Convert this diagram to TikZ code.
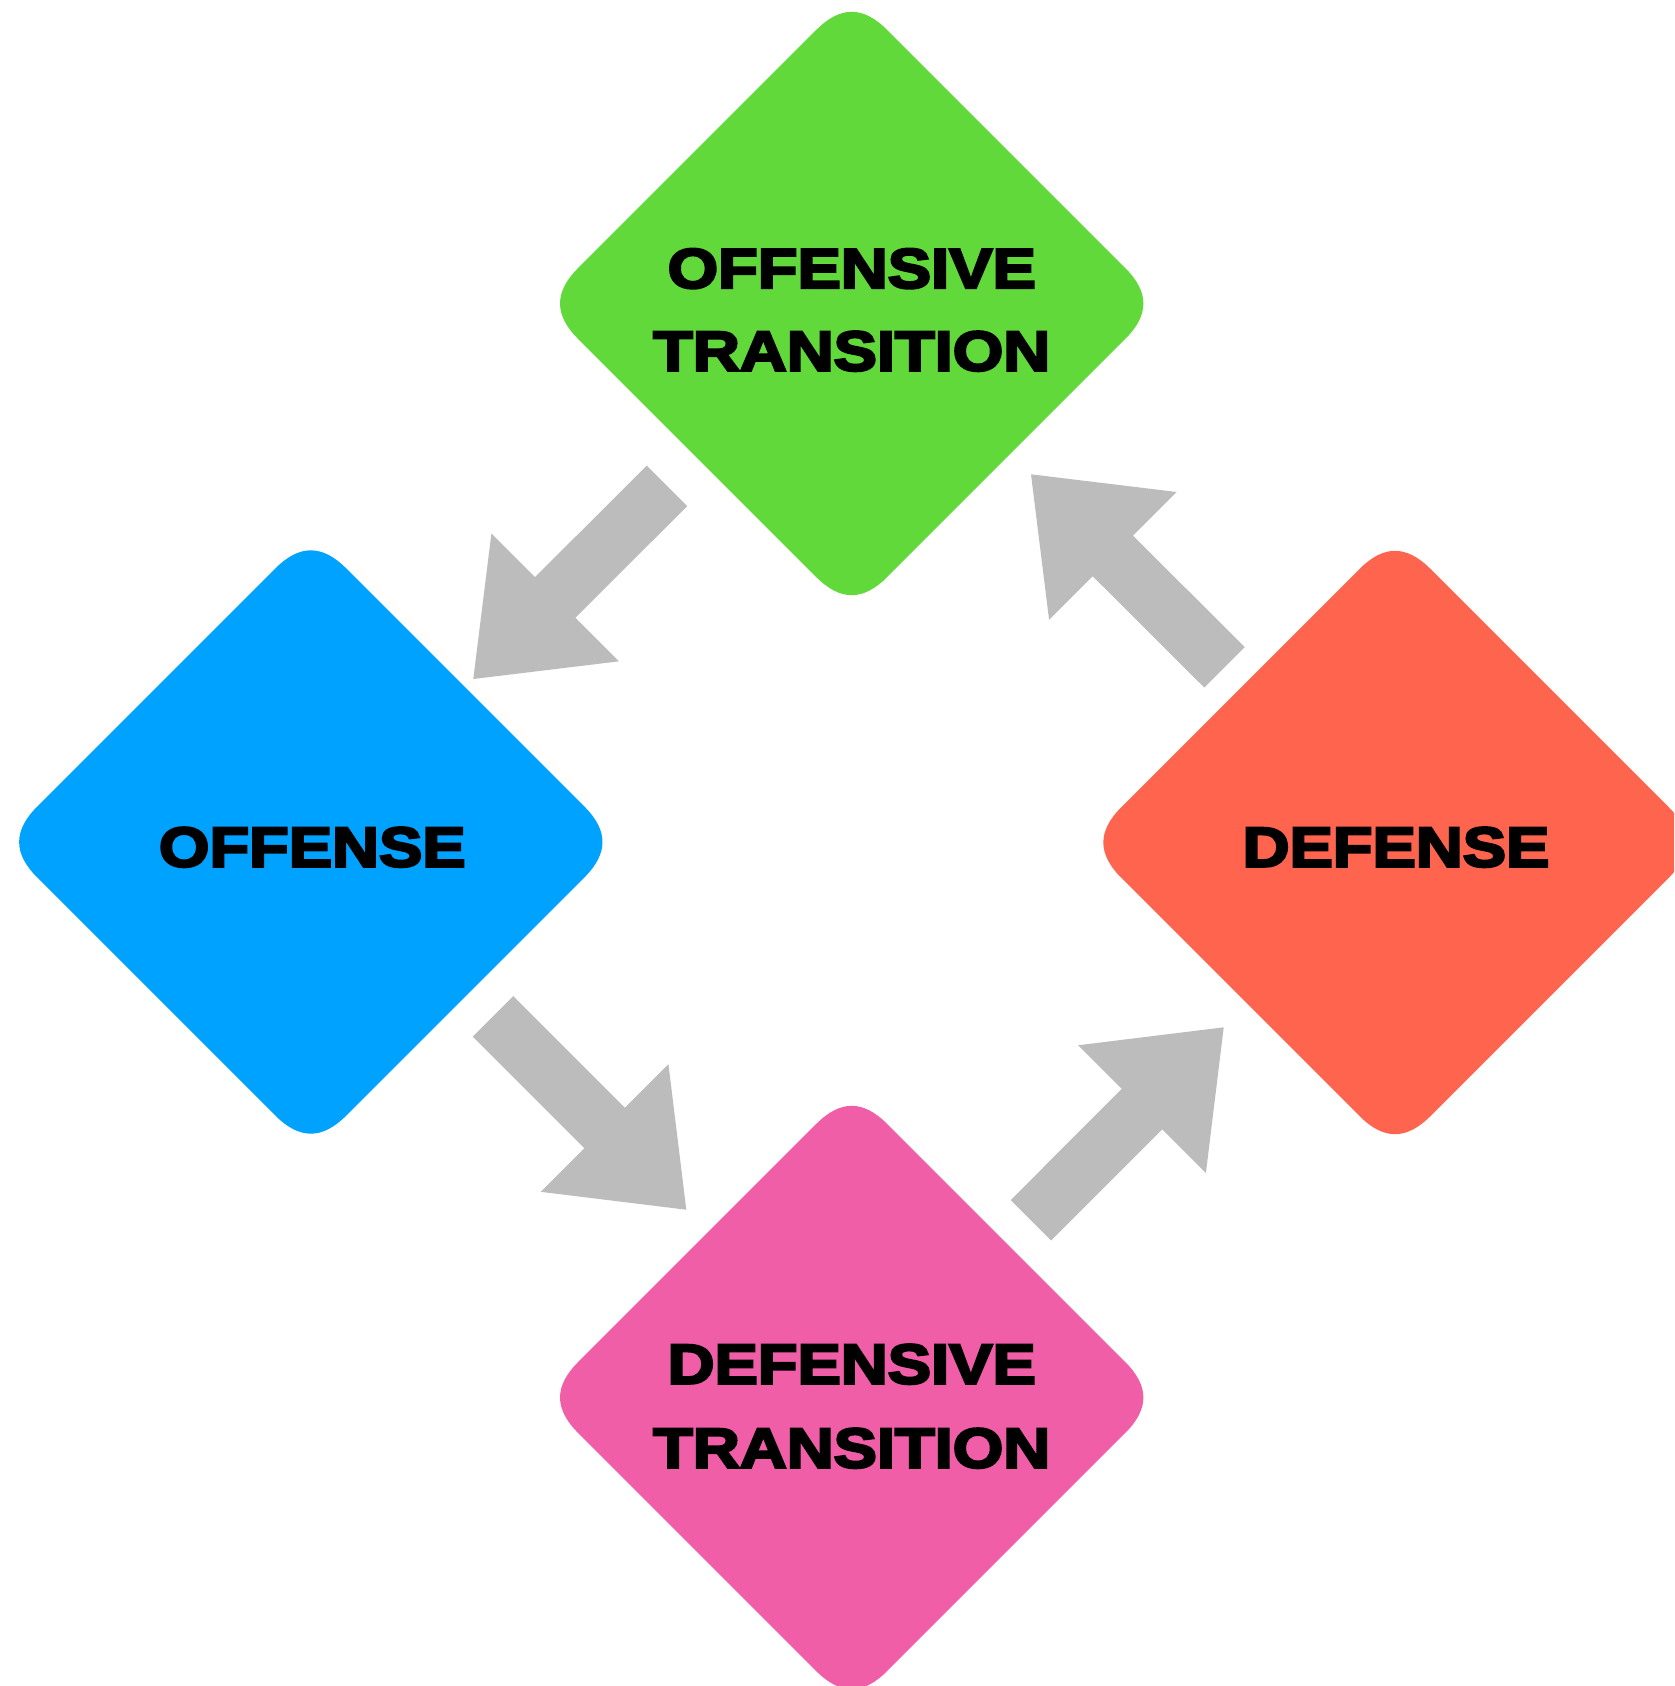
\documentclass[tikz,border=0pt]{standalone}
\usepackage{fontspec}
\usetikzlibrary{calc,shapes.geometric}

% heavy sans for the phase names
\newfontfamily\heavyfont{Liberation Sans}[FakeStretch=1.16, BoldFeatures={FakeBold=4.5}]

\definecolor{otgreen}{RGB}{98,217,58}
\definecolor{offblue}{RGB}{0,162,255}
\definecolor{defred}{RGB}{255,100,78}
\definecolor{dtpink}{RGB}{240,94,167}
\definecolor{flowgray}{RGB}{187,188,187}

\tikzset{
  phase/.style={shape=diamond, minimum width=618pt, minimum height=618pt,
    inner sep=0pt, outer sep=0pt, draw=none},
  phaselabel/.style={anchor=base, inner sep=0pt, text=black,
    font=\heavyfont\bfseries\fontsize{56}{56}\selectfont},
  flow/.style={fill=flowgray, draw=none},
}

% soft-cornered diamond filling the outline of node #1
\newcommand\phasefill[2]{%
  \fill[#2] ($(#1.north)!50pt!(#1.east)$)
    -- ($(#1.east)!50pt!(#1.north)$)
    .. controls ($(#1.east)!16pt!(#1.north)$) and ($(#1.east)!16pt!(#1.south)$) .. ($(#1.east)!50pt!(#1.south)$)
    -- ($(#1.south)!50pt!(#1.east)$)
    .. controls ($(#1.south)!16pt!(#1.east)$) and ($(#1.south)!16pt!(#1.west)$) .. ($(#1.south)!50pt!(#1.west)$)
    -- ($(#1.west)!50pt!(#1.south)$)
    .. controls ($(#1.west)!16pt!(#1.south)$) and ($(#1.west)!16pt!(#1.north)$) .. ($(#1.west)!50pt!(#1.north)$)
    -- ($(#1.north)!50pt!(#1.west)$)
    .. controls ($(#1.north)!16pt!(#1.west)$) and ($(#1.north)!16pt!(#1.east)$) .. ($(#1.north)!50pt!(#1.east)$)
    -- cycle;
}

% block arrow from tail #1 to tip #2
\newcommand\flowarrow[2]{%
  \coordinate (fa-base) at ($(#2)!115.6pt!(#1)$);
  \fill[flow] ($(#1)!28.6pt!90:(#2)$) -- ($(fa-base)!28.6pt!90:(#2)$)
    -- ($(fa-base)!90.3pt!90:(#2)$) -- (#2)
    -- ($(fa-base)!90.3pt!-90:(#2)$) -- ($(fa-base)!28.6pt!-90:(#2)$)
    -- ($(#1)!28.6pt!-90:(#2)$) -- cycle;
}

\begin{document}
\begin{tikzpicture}[x=1pt,y=-1pt]
  \useasboundingbox (0,0) rectangle (1674,1686);
  \clip (0,0) rectangle (1674,1686);
  \fill[white] (0,0) rectangle (1674,1686);

  % the four phases
  \node[phase] (ot)  at (851.7,303.5) {};
  \node[phase] (off) at (310.8,842)   {};
  \node[phase] (def) at (1395,842.5)  {};
  \node[phase] (dt)  at (851.7,1397.5) {};
  \phasefill{ot}{otgreen}
  \phasefill{off}{offblue}
  \phasefill{def}{defred}
  \phasefill{dt}{dtpink}

  % phase names
  \node[phaselabel] (ot-a)  at ($(ot.center)+(0,-15.6)$) {OFFENSIVE};
  \node[phaselabel] (ot-b)  at ($(ot.center)+(0,67)$)    {TRANSITION};
  \node[phaselabel] (off-a) at ($(off.center)+(1.5,24.5)$) {OFFENSE};
  \node[phaselabel] (def-a) at ($(def.center)+(1,24)$)   {DEFENSE};
  \node[phaselabel] (dt-a)  at ($(dt.center)+(0,-14)$)   {DEFENSIVE};
  \node[phaselabel] (dt-b)  at ($(dt.center)+(0,70)$)    {TRANSITION};

  % cycle arrows between the phases
  \coordinate (a1-tail) at (667,485.9);    \coordinate (a1-tip) at (473.3,679);
  \coordinate (a2-tail) at (493,1016.4);   \coordinate (a2-tip) at (686.3,1209.7);
  \coordinate (a3-tail) at (1030.9,1220.3);\coordinate (a3-tip) at (1223.7,1027.3);
  \coordinate (a4-tail) at (1224.5,667.3); \coordinate (a4-tip) at (1031,474.3);
  \flowarrow{a1-tail}{a1-tip}
  \flowarrow{a2-tail}{a2-tip}
  \flowarrow{a3-tail}{a3-tip}
  \flowarrow{a4-tail}{a4-tip}
\end{tikzpicture}
\end{document}
